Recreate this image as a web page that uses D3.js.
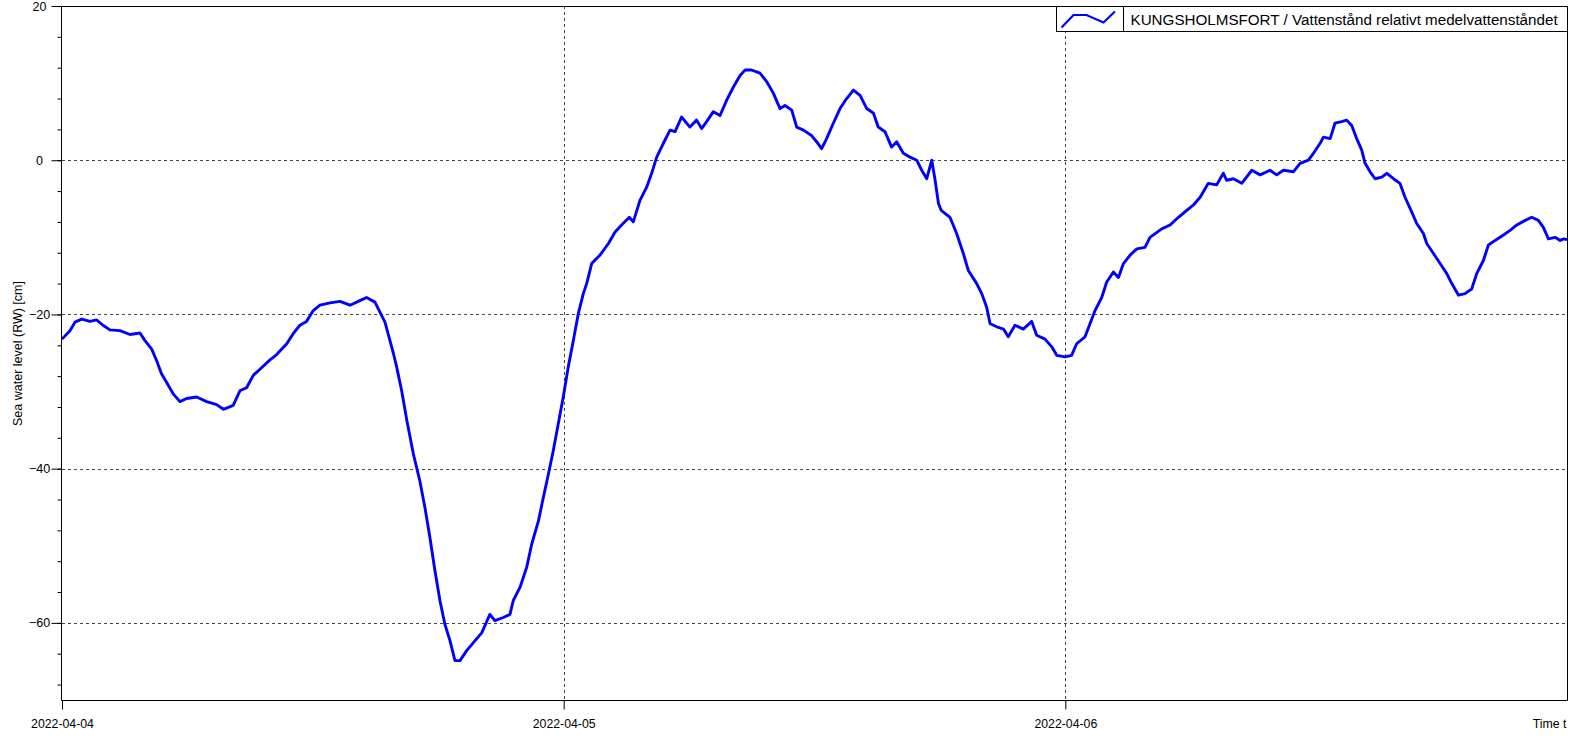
<!DOCTYPE html>
<html>
<head>
<meta charset="utf-8">
<script src="https://cdn.jsdelivr.net/npm/d3@7"></script>
<style>
  body { margin: 0; background: #fff; }
  svg { display: block; font-family: "Liberation Sans", Arial, sans-serif; }
  .grid line { stroke: #444; stroke-dasharray: 3,3; }
</style>
</head>
<body>
<div id="chart"></div>
<script>
const width = 1573;
const height = 739;

// hours since 2022-04-04 00:00 and water level in cm
const hours = [
  0, 0.38, 0.62, 0.95, 1.34, 1.65, 1.96, 2.29, 2.77, 3.25, 3.73, 3.97, 4.29, 4.53, 4.76, 5.0,
  5.32, 5.64, 5.96, 6.44, 6.92, 7.4, 7.72, 8.19, 8.51, 8.83, 9.15, 9.47, 9.95, 10.27, 10.75, 11.06,
  11.38, 11.7, 12.02, 12.34, 12.82, 13.3, 13.78, 14.25, 14.57, 14.97, 15.21, 15.45, 15.69, 15.85,
  16.01, 16.25, 16.5, 16.81, 17.12, 17.36, 17.6, 17.84, 18.08, 18.32, 18.56, 18.8, 19.04, 19.36,
  19.76, 20.08, 20.47, 20.71, 21.11, 21.43, 21.59, 21.91, 22.23, 22.47, 22.79, 23.03, 23.27, 23.5,
  23.74, 23.98, 24.22, 24.46, 24.7, 24.94, 25.1, 25.34, 25.74, 26.14, 26.46, 26.77, 27.14, 27.33,
  27.65, 27.97, 28.21, 28.45, 28.77, 29.09, 29.33, 29.64, 30.04, 30.36, 30.6, 30.84, 31.16, 31.48,
  31.8, 32.12, 32.44, 32.68, 32.99, 33.39, 33.71, 34.03, 34.35, 34.59, 34.91, 35.15, 35.47, 35.86,
  36.1, 36.34, 36.58, 36.9, 37.22, 37.54, 37.86, 38.18, 38.5, 38.82, 39.05, 39.37, 39.69, 39.93,
  40.25, 40.57, 40.89, 41.13, 41.37, 41.61, 41.77, 41.93, 42.06, 42.48, 42.8, 43.12, 43.36, 43.76,
  44.0, 44.24, 44.4, 44.72, 45.04, 45.27, 45.59, 45.99, 46.39, 46.63, 47.03, 47.35, 47.59, 47.99,
  48.3, 48.54, 48.94, 49.18, 49.42, 49.74, 49.98, 50.3, 50.54, 50.78, 51.1, 51.42, 51.81, 52.05,
  52.61, 53.01, 53.41, 53.81, 54.13, 54.45, 54.84, 55.24, 55.56, 55.72, 56.04, 56.44, 56.92, 57.32,
  57.79, 58.11, 58.43, 58.91, 59.23, 59.63, 59.87, 60.19, 60.35, 60.67, 60.9, 61.22, 61.46, 61.7,
  61.94, 62.18, 62.34, 62.58, 62.82, 63.14, 63.38, 63.7, 64.01, 64.25, 64.57, 64.81, 65.13, 65.29,
  65.61, 65.93, 66.25, 66.49, 66.81, 67.12, 67.44, 67.68, 68.0, 68.24, 68.56, 68.96, 69.28, 69.6,
  70.0, 70.31, 70.63, 70.87, 71.11, 71.43, 71.67, 71.85, 72.0
];
const levels = [
  -23.2, -22.1, -21.0, -20.6, -20.9, -20.7, -21.4, -22.0, -22.1, -22.6, -22.4, -23.4, -24.5, -26.0, -27.7, -28.8,
  -30.3, -31.3, -30.9, -30.7, -31.3, -31.7, -32.3, -31.8, -29.9, -29.5, -27.9, -27.1, -25.9, -25.2, -23.8, -22.5,
  -21.4, -20.9, -19.5, -18.8, -18.5, -18.3, -18.8, -18.2, -17.8, -18.4, -19.7, -21.0, -23.4, -25.0,
  -26.8, -29.9, -33.8, -38.1, -41.6, -45.0, -48.9, -53.2, -57.1, -60.2, -62.3, -64.9, -64.9, -63.6,
  -62.3, -61.3, -58.9, -59.7, -59.3, -58.9, -57.1, -55.4, -52.8, -49.8, -46.8, -43.7, -40.7, -37.7,
  -34.2, -30.7, -26.8, -23.4, -19.9, -17.3, -16.0, -13.4, -12.3, -10.8, -9.3, -8.4, -7.4, -8.0,
  -5.2, -3.5, -1.7, 0.4, 2.2, 3.9, 3.7, 5.6, 4.3, 5.2, 4.1, 5.0, 6.3, 5.8,
  7.8, 9.5, 11.0, 11.7, 11.7, 11.3, 10.2, 8.7, 6.7, 7.1, 6.5, 4.3, 3.9, 3.2,
  2.4, 1.5, 2.8, 4.8, 6.7, 8.0, 9.1, 8.4, 6.7, 6.1, 4.3, 3.7, 1.7, 2.4,
  0.9, 0.4, 0.0, -1.3, -2.4, 0.0, -2.6, -5.6, -6.5, -7.4, -9.5, -12.1, -14.3, -16.0,
  -17.3, -19.1, -21.2, -21.6, -21.9, -22.9, -21.4, -21.9, -20.9, -22.7, -23.2, -24.2, -25.3, -25.5,
  -25.3, -23.8, -22.9, -21.2, -19.5, -17.8, -15.8, -14.5, -15.2, -13.4, -12.3, -11.5, -11.3, -10.0,
  -8.9, -8.4, -7.4, -6.5, -5.8, -4.8, -3.0, -3.2, -1.7, -2.6, -2.4, -3.0, -1.3, -1.9,
  -1.3, -1.9, -1.3, -1.5, -0.4, 0.0, 0.9, 2.2, 3.0, 2.8, 4.8, 5.0, 5.2, 4.5,
  2.8, 1.3, -0.4, -1.5, -2.4, -2.2, -1.7, -2.4, -3.0, -4.8, -6.7, -8.2, -9.5, -10.8,
  -12.1, -13.4, -14.7, -16.0, -17.5, -17.3, -16.7, -14.7, -13.0, -11.0, -10.4, -9.7, -9.1, -8.4,
  -7.8, -7.4, -7.8, -8.7, -10.2, -10.0, -10.4, -10.2, -10.3
];

const dayTicks = ["2022-04-04", "2022-04-05", "2022-04-06"];
const yMajorTicks = [20, 0, -20, -40, -60];
const legendLabel = "KUNGSHOLMSFORT / Vattenstånd relativt medelvattenståndet";

const margin = { top: 6, right: 6, bottom: 39, left: 62 };
const parseDay = d3.utcParse("%Y-%m-%d");
const start = parseDay("2022-04-04");
const end = parseDay("2022-04-07");

const data = hours.map((h, i) => ({ t: new Date(start.getTime() + h * 3600e3), v: levels[i] }));

const x = d3.scaleUtc()
    .domain([start, end])
    .range([margin.left, width - margin.right]);

const y = d3.scaleLinear()
    .domain([-70, 20])
    .range([height - margin.bottom, margin.top]);

const svg = d3.select("#chart")
    .append("svg")
    .attr("width", width)
    .attr("height", height);

// dashed grid
const grid = svg.append("g").attr("class", "grid");
grid.selectAll(".h")
    .data(yMajorTicks.filter(v => v > -70 && v < 20))
    .join("line")
    .attr("x1", x.range()[0]).attr("x2", x.range()[1])
    .attr("y1", d => Math.round(y(d)) + 0.5).attr("y2", d => Math.round(y(d)) + 0.5);
grid.selectAll(".v")
    .data(dayTicks.slice(1).map(parseDay))
    .join("line")
    .attr("x1", d => Math.round(x(d)) + 0.5).attr("x2", d => Math.round(x(d)) + 0.5)
    .attr("y1", y.range()[1]).attr("y2", y.range()[0]);

// series
svg.append("path")
    .datum(data)
    .attr("fill", "none")
    .attr("stroke", "#0000ff")
    .attr("stroke-width", 2.9)
    .attr("stroke-linejoin", "round")
    .attr("d", d3.line().x(d => x(d.t)).y(d => y(d.v)));

// frame
const x0 = x.range()[0] - 0.5, x1 = x.range()[1] + 0.5;
const yTop = y.range()[1] + 0.5, yBot = y.range()[0] + 0.5;
svg.append("path")
    .attr("fill", "none")
    .attr("stroke", "#000")
    .attr("d", `M${x0},${yTop}H${x1}V${yBot}H${x0}Z`);

// y axis: minor ticks every 4 cm, labelled ticks every 20 cm
svg.append("g")
    .attr("transform", `translate(${x0},0)`)
    .call(d3.axisLeft(y).tickValues(d3.range(-68, 20, 4)).tickSize(4).tickFormat(""))
    .call(g => g.select(".domain").remove());
svg.append("g")
    .attr("transform", `translate(${x0},0)`)
    .call(d3.axisLeft(y).tickValues(yMajorTicks).tickSize(10).tickFormat(d3.format("d")))
    .call(g => g.select(".domain").remove())
    .call(g => g.selectAll("text")
        .attr("x", -22)
        .attr("text-anchor", "middle")
        .style("font-family", "'Liberation Sans', Arial, sans-serif")
        .style("font-size", "12.5px")
        .attr("fill", "#000"));
svg.selectAll(".tick line").attr("stroke", "#000");

// x axis
svg.append("g")
    .attr("transform", `translate(0,${yBot})`)
    .call(d3.axisBottom(x).tickValues(dayTicks.map(parseDay)).tickSize(9).tickFormat(d3.utcFormat("%Y-%m-%d")))
    .call(g => g.select(".domain").remove())
    .call(g => g.selectAll("text")
        .attr("y", 27)
        .attr("dy", 0)
        .style("font-family", "'Liberation Sans', Arial, sans-serif")
        .style("font-size", "12.3px")
        .attr("fill", "#000"))
    .call(g => g.selectAll("line").attr("stroke", "#000"));

svg.append("text")
    .attr("x", x1 - 1)
    .attr("y", yBot + 27)
    .attr("text-anchor", "end")
    .style("font-size", "12.3px")
    .text("Time t");

svg.append("text")
    .attr("transform", `translate(22,${(yTop + yBot) / 2}) rotate(-90)`)
    .attr("text-anchor", "middle")
    .style("font-size", "12.5px")
    .text("Sea water level (RW) [cm]");

// legend
const lg = svg.append("g").attr("transform", `translate(1056.5,${yTop})`);
const lw = x1 - 1056.5, lh = 25;
lg.append("rect")
    .attr("width", lw).attr("height", lh)
    .attr("fill", "#fff").attr("stroke", "#000");
lg.append("line")
    .attr("x1", 67).attr("x2", 67).attr("y1", 0).attr("y2", lh)
    .attr("stroke", "#000");
lg.append("path")
    .attr("fill", "none")
    .attr("stroke", "#0000ff")
    .attr("stroke-width", 2.2)
    .attr("d", d3.line()([[5, 21], [17, 8.5], [30, 8.5], [47, 16], [58.5, 5]]));
lg.append("text")
    .attr("x", 74)
    .attr("y", 18.5)
    .style("font-size", "15.2px")
    .text(legendLabel);
</script>
</body>
</html>
